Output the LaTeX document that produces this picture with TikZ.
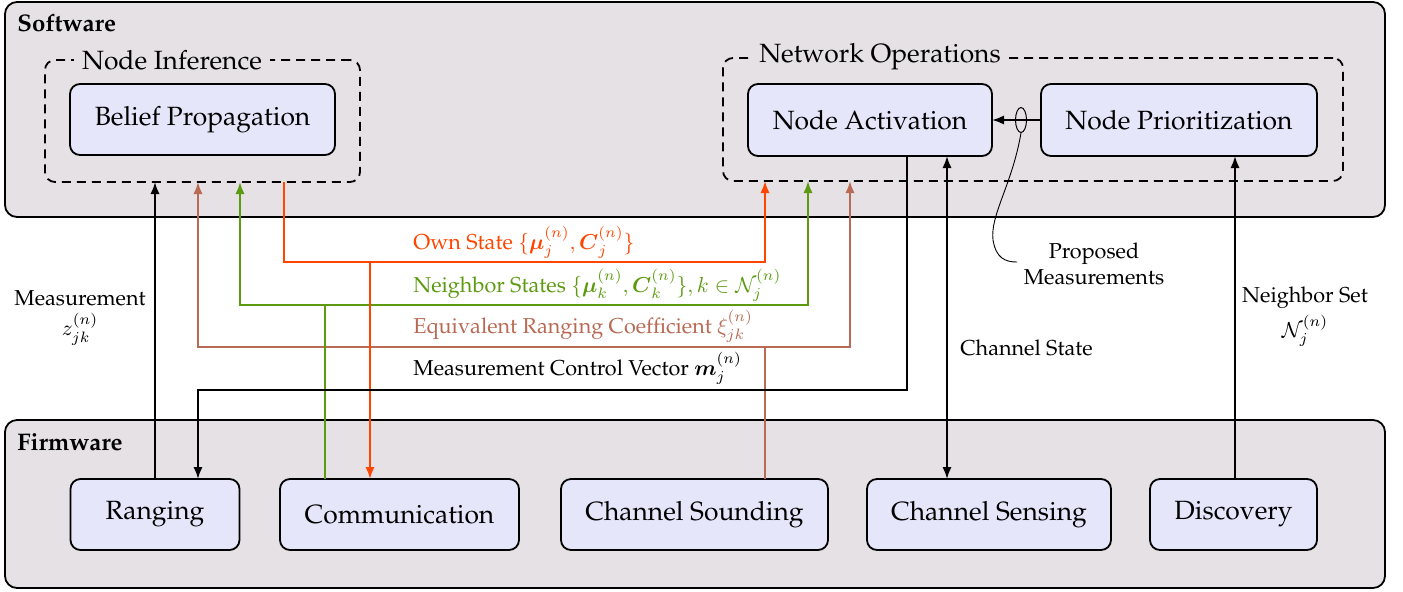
\RequirePackage{fix-cm}
\documentclass[tikz,border=0pt]{standalone}
\usepackage[T1]{fontenc}
\usepackage{amsmath}
\renewcommand{\rmdefault}{ppl}
\usetikzlibrary{arrows.meta,calc,shapes.geometric}
\definecolor{bgc}{RGB}{229,225,228}
\definecolor{boxc}{RGB}{230,230,250}
\definecolor{ownc}{RGB}{255,69,0}
\definecolor{nbc}{RGB}{92,154,16}
\definecolor{eqc}{RGB}{184,106,84}
\begin{document}
\begin{tikzpicture}[x=0.5pt,y=-0.5pt,
  layer/.style={draw=black, line width=0.9pt, fill=bgc, rounded corners=6pt, inner sep=0pt, outer sep=0pt},
  blk/.style={draw=black, line width=0.9pt, fill=boxc, rounded corners=5pt, inner sep=0pt, outer sep=0pt, font=\fontsize{13.2}{15}\selectfont},
  grp/.style={draw=black, line width=0.9pt, dash pattern=on 4.5pt off 3pt, rounded corners=5pt, inner sep=0pt, outer sep=0pt},
  grptitle/.style={fill=bgc, inner xsep=4pt, inner ysep=2pt, font=\fontsize{13.2}{15}\selectfont},
  hdr/.style={font=\fontsize{12}{14}\selectfont\bfseries, inner sep=0pt, anchor=west},
  lbl/.style={font=\fontsize{10.8}{13}\selectfont, inner sep=0pt},
  conn/.style={line width=0.95pt},
  arr/.style={conn, -{Latex[length=6pt,width=4.6pt]}},
  darr/.style={conn, {Latex[length=6pt,width=4.6pt]}-{Latex[length=6pt,width=4.6pt]}},
]
\useasboundingbox (0,0) rectangle (1403,591);
% layers
\node[layer, minimum width=690pt, minimum height=107.5pt] (sw) at (695,109.5) {};
\node[layer, minimum width=690pt, minimum height=84pt] (fw) at (695,504) {};
\node[hdr] (swl) at (17,23) {Software};
\node[hdr] (fwl) at (17,442) {Firmware};
% groups
\node[grp, minimum width=157.5pt, minimum height=61pt] (ni) at (202.5,121) {};
\node[grptitle] (nit) at (172,60) {Node Inference};
\node[grp, minimum width=310pt, minimum height=61.5pt] (no) at (1033,119.5) {};
\node[grptitle] (not) at (880,57) {Network Operations};
% software blocks
\node[blk, minimum width=132.5pt, minimum height=35.5pt] (bp) at (202.5,119.5) {Belief Propagation};
\node[blk, minimum width=122pt, minimum height=36pt] (na) at (870,120) {Node Activation};
\node[blk, minimum width=138pt, minimum height=36pt] (np) at (1179,120) {Node Prioritization};
% firmware blocks
\node[blk, minimum width=84.5pt, minimum height=35.5pt] (rang) at (155,514.5) {Ranging};
\node[blk, minimum width=119.5pt, minimum height=35.5pt] (comm) at (399.5,514.5) {Communication};
\node[blk, minimum width=133.5pt, minimum height=35.5pt] (csd) at (694.5,514.5) {Channel Sounding};
\node[blk, minimum width=122pt, minimum height=35.5pt] (cse) at (989,514.5) {Channel Sensing};
\node[blk, minimum width=83.5pt, minimum height=35.5pt] (disc) at (1233.5,514.5) {Discovery};
% junction coordinates
\coordinate (owA) at (284,262);
\coordinate (owD) at (370,262);
\coordinate (owR) at (765,262);
\coordinate (nbL) at (240,305);
\coordinate (nbJ) at (325,305);
\coordinate (nbR) at (808,305);
\coordinate (eqL) at (198,347);
\coordinate (eqJ) at (765,347);
\coordinate (eqR) at (850,347);
\coordinate (mcR) at (907,390);
\coordinate (mcL) at (198,390);
\coordinate (csx) at (947,300);
\coordinate (nsx) at (1235,300);
% measurement
\draw[arr] (rang.north) -- (rang.north |- ni.south);
% equivalent ranging coefficient
\draw[conn, eqc] (csd.north -| eqJ) -- (eqJ);
\draw[arr, eqc] (eqJ) -- (eqL) -- (eqL |- ni.south);
\draw[arr, eqc] (eqJ) -- (eqR) -- (eqR |- no.south);
% neighbor states
\draw[conn, nbc] (comm.north -| nbJ) -- (nbJ);
\draw[arr, nbc] (nbJ) -- (nbL) -- (nbL |- ni.south);
\draw[arr, nbc] (nbJ) -- (nbR) -- (nbR |- no.south);
% own state
\draw[arr, ownc] (owA |- ni.south) -- (owA) -- (owR) -- (owR |- no.south);
\draw[arr, ownc] (owD) -- (owD |- comm.north);
% measurement control vector
\draw[arr] (na.south -| mcR) -- (mcR) -- (mcL) -- (mcL |- rang.north);
% channel state
\draw[darr] (na.south -| csx) -- (cse.north -| csx);
% neighbor set
\draw[arr] (disc.north -| nsx) -- (np.south -| nsx);
% proposed measurements
\draw[arr] (np.west) -- (na.east);
\node[ellipse, draw, line width=0.5pt, minimum width=5.5pt, minimum height=12.5pt, inner sep=0pt] (el) at (1021,120) {};
\node[lbl, align=center] (pm) at (1094,264) {Proposed\\Measurements};
\coordinate (pme) at (1017,262);
\draw[line width=0.45pt] (el.south) .. controls (1012,185) and (990,215) .. (993,240) .. controls (996,258) and (1005,262) .. (pme);
% labels
\node[lbl, text=ownc, anchor=base west] (lown) at (413,249) {Own State $\{\boldsymbol{\mu}_j^{(n)}, \boldsymbol{C}_j^{(n)}\}$};
\node[lbl, text=nbc, anchor=base west] (lnb) at (413,292) {Neighbor States $\{\boldsymbol{\mu}_k^{(n)}, \boldsymbol{C}_k^{(n)}\}, k \in \mathcal{N}_j^{(n)}$};
\node[lbl, text=eqc, anchor=base west] (leq) at (413,333) {Equivalent Ranging Coefficient $\xi_{jk}^{(n)}$};
\node[lbl, anchor=base west] (lmc) at (413,375) {Measurement Control Vector $\boldsymbol{m}_j^{(n)}$};
\node[lbl, align=center] (lmeas) at (80,318) {Measurement\\[2pt]$z_{jk}^{(n)}$};
\node[lbl, align=center] (lns) at (1305,317) {Neighbor Set\\[2pt]$\mathcal{N}_j^{(n)}$};
\node[lbl, anchor=west] (lcs) at (960,348) {Channel State};
\end{tikzpicture}
\end{document}
